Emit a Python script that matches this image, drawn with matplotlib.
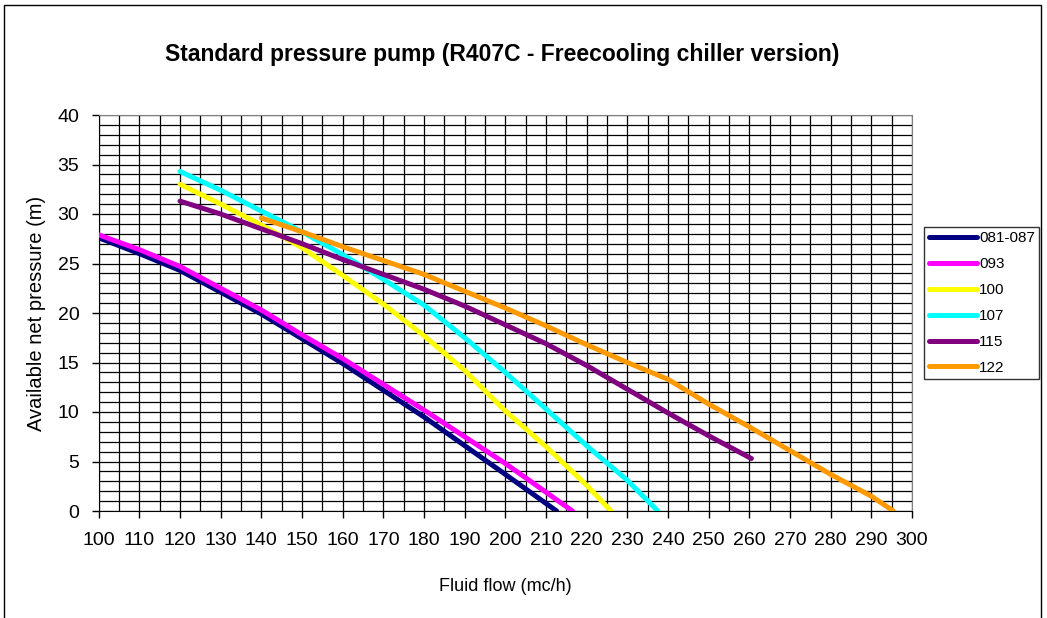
import matplotlib
matplotlib.use('Agg')
from matplotlib import pyplot as plt
from matplotlib.patches import Rectangle
import numpy as np

plt.rcParams['font.family'] = ['Liberation Sans', 'DejaVu Sans']

# pump curves: flow (mc/h) -> available net pressure (m)
flow_081 = [100, 110, 120, 130, 140, 150, 160, 170, 180, 190, 200, 212.6]
head_081 = [27.6, 26.0, 24.3, 22.1, 19.9, 17.4, 14.9, 12.2, 9.5, 6.6, 3.7, 0]

flow_093 = [100, 110, 120, 130, 140, 150, 160, 170, 180, 190, 200, 210, 216.5]
head_093 = [27.9, 26.4, 24.7, 22.5, 20.3, 17.8, 15.4, 12.8, 10.2, 7.5, 4.8, 1.9, 0]

flow_100 = [120, 130, 140, 150, 160, 170, 180, 190, 200, 210, 220, 226]
head_100 = [33.0, 31.0, 28.9, 26.6, 23.8, 20.9, 17.7, 14.2, 10.1, 6.5, 2.6, 0]

flow_107 = [120, 130, 140, 150, 160, 170, 180, 190, 200, 210, 220, 230, 237.5]
head_107 = [34.3, 32.4, 30.3, 28.2, 25.9, 23.4, 20.8, 17.5, 14.0, 10.3, 6.6, 3.1, 0]

flow_115 = [120, 130, 140, 150, 160, 170, 180, 190, 200, 210, 220, 230, 240, 250, 260.5]
head_115 = [31.3, 30.0, 28.5, 27.0, 25.4, 23.9, 22.4, 20.7, 18.8, 16.9, 14.7, 12.3, 9.9, 7.6, 5.3]

flow_122 = [140, 150, 160, 170, 180, 190, 200, 210, 220, 230, 240, 250, 260, 270, 280, 290, 295.4]
head_122 = [29.6, 28.2, 26.7, 25.3, 23.9, 22.2, 20.5, 18.7, 16.8, 15.0, 13.3, 10.8, 8.5, 6.1, 3.7, 1.5, 0]

series = [
    ('081-087', flow_081, head_081, '#000080'),
    ('093', flow_093, head_093, '#FF00FF'),
    ('100', flow_100, head_100, '#FFFF00'),
    ('107', flow_107, head_107, '#00FFFF'),
    ('115', flow_115, head_115, '#800080'),
    ('122', flow_122, head_122, '#FF9900'),
]

W, H = 1047, 618
fig = plt.figure(figsize=(W / 100, H / 100), dpi=100)
ax = fig.add_axes([98.7 / W, 1 - 511 / H, (912 - 98.7) / W, (511 - 115) / H])

for name, x, y, c in series:
    ax.plot(x, y, color=c, lw=3.6, label=name, solid_capstyle='round', zorder=3)

ax.set_xlim(100, 300)
ax.set_ylim(0, 40)
ax.set_xticks(np.arange(100, 301, 10))
ax.set_xticks(np.arange(100, 301, 5), minor=True)
ax.set_yticks(np.arange(0, 41, 5))
ax.set_yticks(np.arange(0, 41, 1), minor=True)
ax.grid(which='both', color='black', lw=0.9)
ax.set_axisbelow(True)
ax.tick_params(which='major', direction='out', length=5, width=1, labelsize=14, pad=9)
ax.tick_params(which='minor', length=0)
ax.tick_params(axis='x', pad=10)
for s in ['top', 'right']:
    ax.spines[s].set_color('#808080')
for s in ['left', 'bottom']:
    ax.spines[s].set_color('black')

ax.set_xlabel('Fluid flow (mc/h)', fontsize=13, labelpad=21)
ax.set_ylabel('Available net pressure (m)', fontsize=14.5, labelpad=8)

fig.text(502 / W, 1 - 55 / H, 'Standard pressure pump (R407C - Freecooling chiller version)',
         ha='center', va='center', fontsize=16.5, fontweight='bold')

leg = ax.legend(loc='center left', bbox_to_anchor=(924 / W, 1 - 303 / H), bbox_transform=fig.transFigure,
                frameon=True, fancybox=False, edgecolor='black', fontsize=11,
                handlelength=3.2, handletextpad=0.1, labelspacing=0.78, borderpad=0.3, borderaxespad=0)
leg.get_frame().set_linewidth(1)

fig.add_artist(Rectangle((4 / W, -0.05), (1041 - 4) / W, 1.05 - 5 / H, transform=fig.transFigure,
                         fill=False, edgecolor='black', lw=1))

fig.savefig('out.png', dpi=100)
